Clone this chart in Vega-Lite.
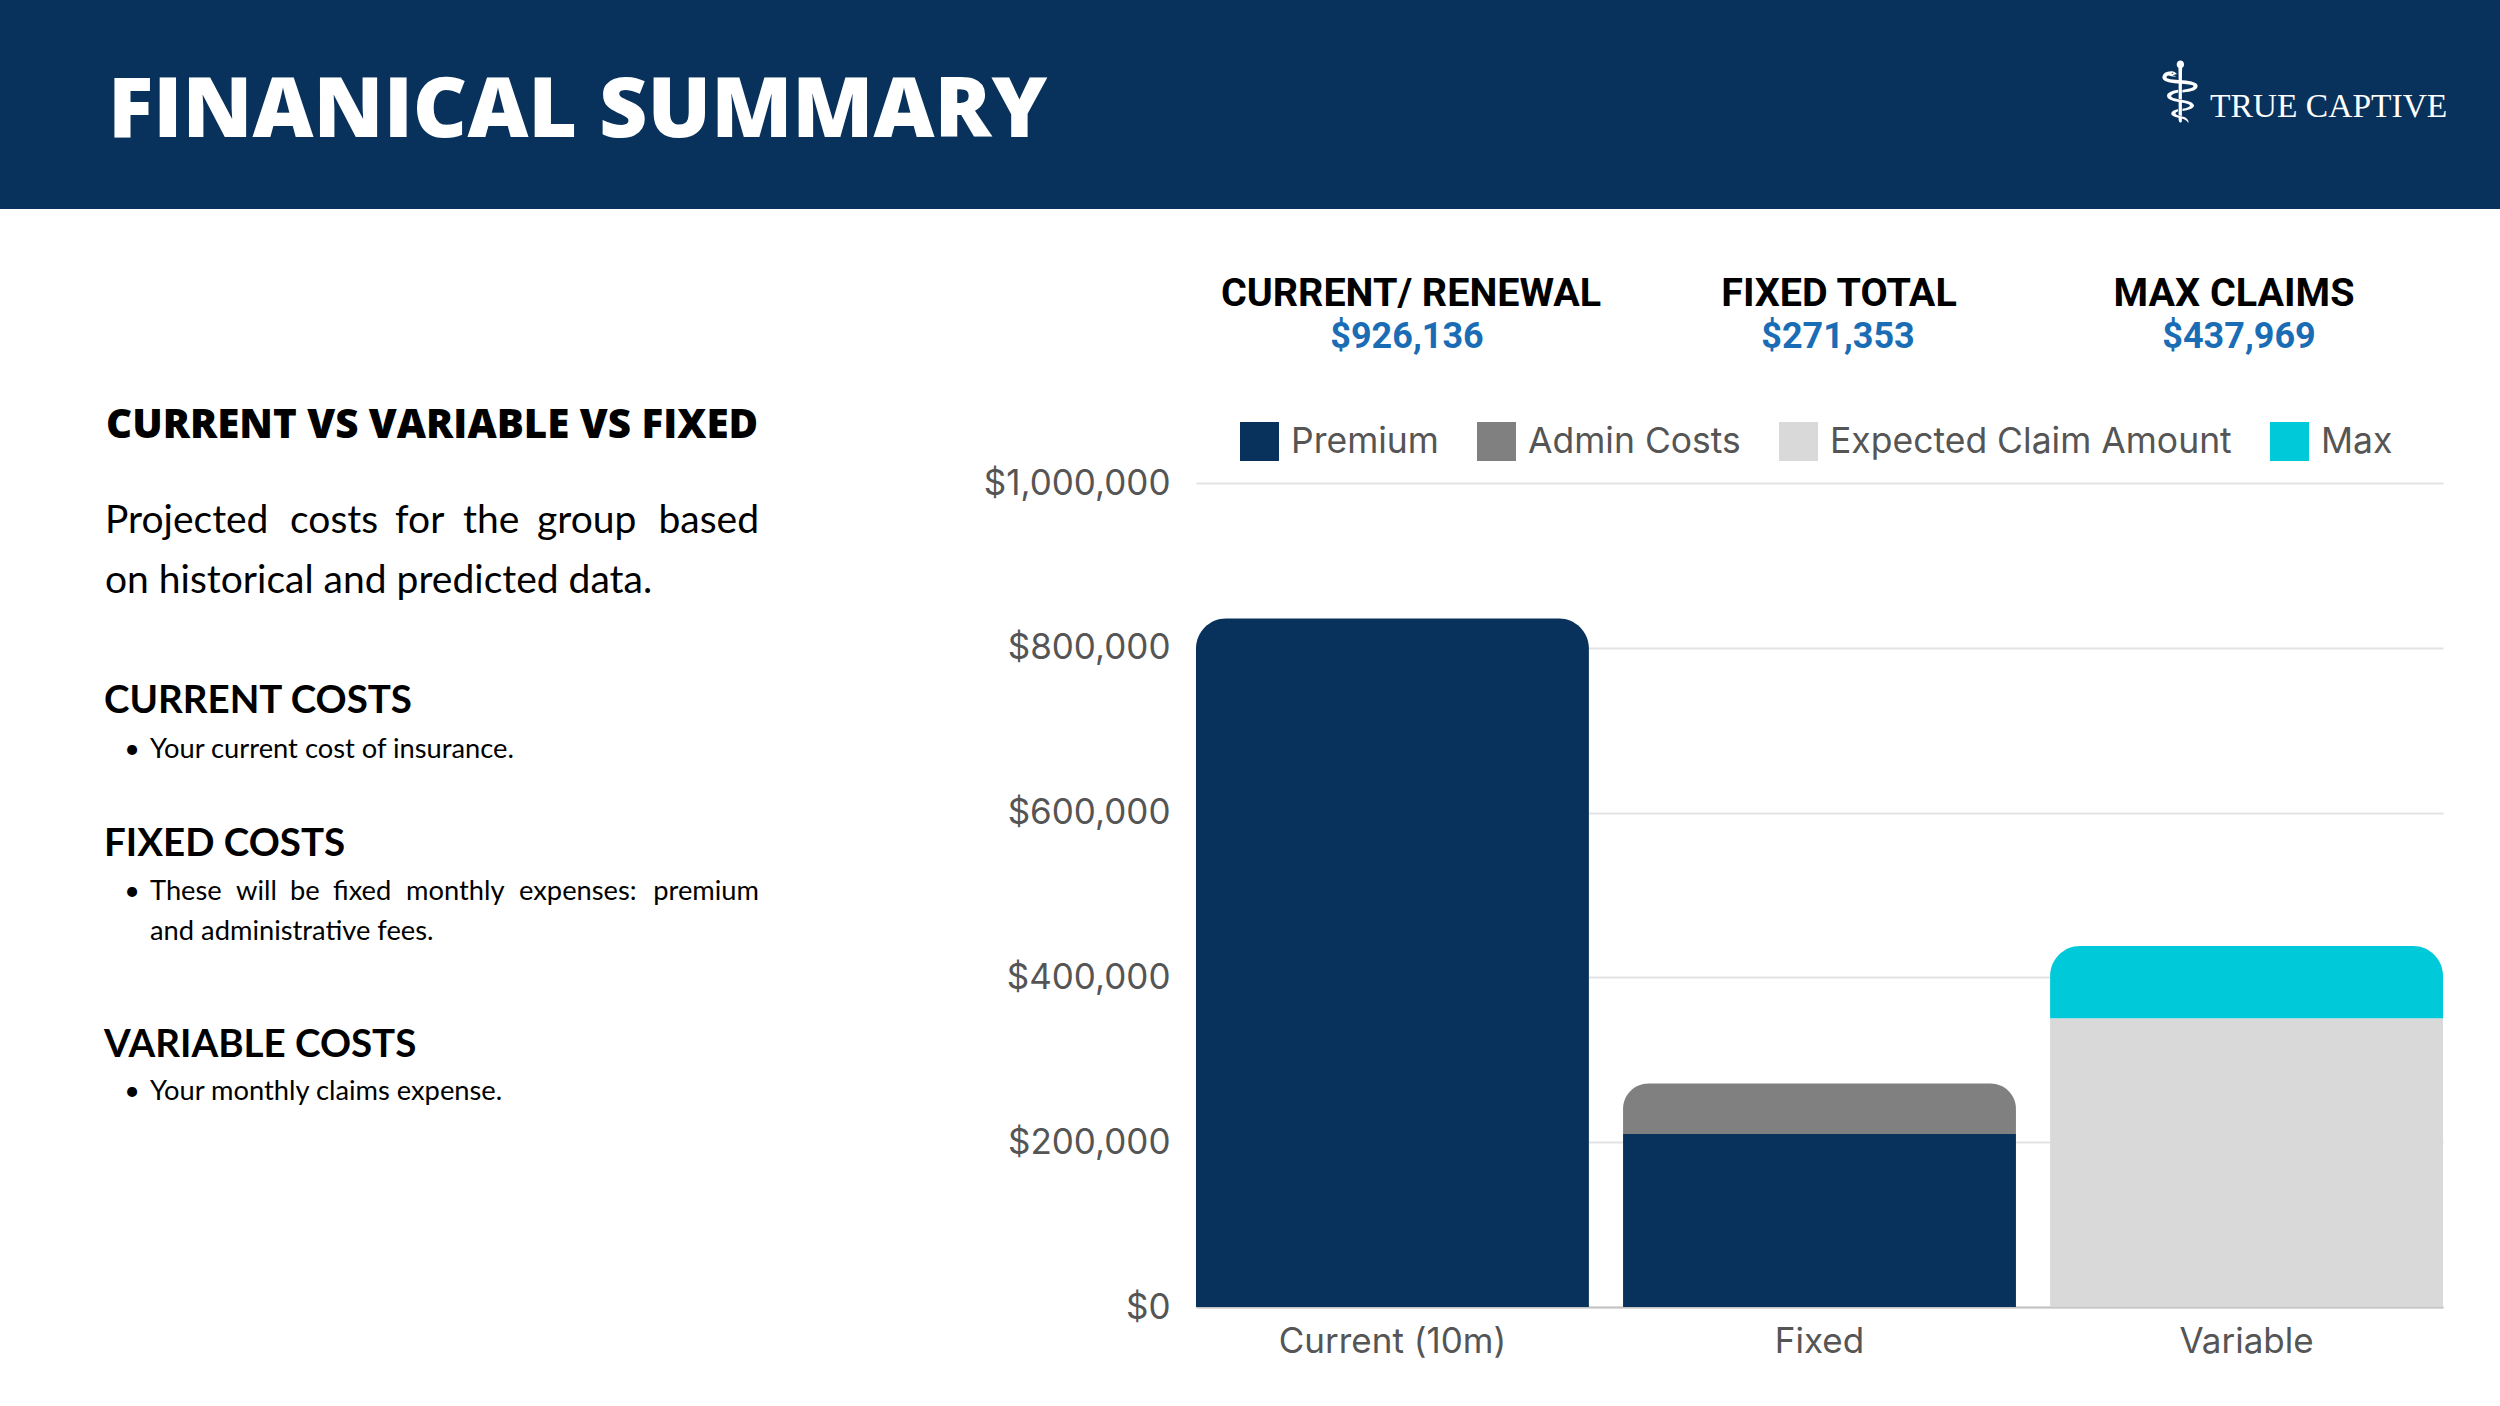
{
  "$schema": "https://vega.github.io/schema/vega-lite/v6.json",
  "width": 1247,
  "height": 824,
  "autosize": {"type": "none"},
  "padding": {"left": 1196, "top": 483, "right": 57, "bottom": 99},
  "background": "white",
  "config": {"view": {"stroke": null}, "font": "Inter"},
  "layer": [
    {
      "data": {"values": [{}]},
      "mark": {"type": "rect", "color": "#08325c"},
      "encoding": {"x": {"value": -1196}, "x2": {"value": 1304}, "y": {"value": -483}, "y2": {"value": -274}}
    },
    {
      "data": {"values": [
        {"group": "Current (10m)", "series": "Premium", "part": "top", "value": 835600},
        {"group": "Fixed", "series": "Premium", "part": "base", "value": 209800},
        {"group": "Fixed", "series": "Admin Costs", "part": "top", "value": 61553},
        {"group": "Variable", "series": "Expected Claim Amount", "part": "base", "value": 350375},
        {"group": "Variable", "series": "Max", "part": "top", "value": 87594}
      ]},
      "transform": [{"stack": "value", "groupby": ["group"], "sort": [{"field": "part", "order": "ascending"}], "as": ["v0", "v1"]}],
      "encoding": {
        "x": {"field": "group", "type": "nominal", "title": null,
          "scale": {"domain": ["Current (10m)", "Fixed", "Variable"], "paddingInner": 0.08, "paddingOuter": 0},
          "axis": {"labelAngle": 0, "labelFont": "Inter", "labelFontSize": 35, "labelColor": "#555555", "labelPadding": 17, "labelLimit": 600, "ticks": false, "domain": true, "domainColor": "#c4c4c4", "domainWidth": 2, "grid": false}},
        "y": {"field": "v0", "type": "quantitative", "title": null,
          "scale": {"domain": [0, 1000000]},
          "axis": {"values": [0, 200000, 400000, 600000, 800000, 1000000], "format": "$,.0f", "labelFont": "Inter", "labelFontSize": 35, "labelColor": "#555555", "labelPadding": 26, "labelLimit": 600, "ticks": false, "domain": false, "grid": true, "gridColor": "#e3e3e3", "gridWidth": 2}},
        "y2": {"field": "v1"},
        "color": {"field": "series", "type": "nominal",
          "scale": {"domain": ["Premium", "Admin Costs", "Expected Claim Amount", "Max"], "range": ["#08325c", "#808080", "#d9d9d9", "#00c9d9"]},
          "legend": {"title": null, "orient": "none", "legendX": 44, "legendY": -61, "direction": "horizontal", "columns": 4, "symbolType": "square", "symbolSize": 1521, "symbolStrokeWidth": 0, "symbolOpacity": 1, "labelFont": "Inter", "labelFontSize": 35.5, "labelColor": "#555555", "labelOffset": 12, "columnPadding": 38, "labelLimit": 600}}
      },
      "layer": [
        {"transform": [{"filter": "datum.part == 'base'"}], "mark": {"type": "bar", "strokeWidth": 0}},
        {"transform": [{"filter": "datum.part == 'top'"}], "mark": {"type": "bar", "strokeWidth": 0, "cornerRadiusTopLeft": 30, "cornerRadiusTopRight": 30}}
      ]
    },
    {"data": {"values": [{"t": "FINANICAL SUMMARY"}]}, "mark": {"type": "text", "align": "left", "baseline": "alphabetic", "font": "Open Sans", "fontWeight": 800, "fontSize": 84, "color": "#ffffff"}, "encoding": {"text": {"field": "t"}, "x": {"value": -1088}, "y": {"value": -346}}},
    {"data": {"values": [{"t": "⚕"}]}, "mark": {"type": "text", "align": "center", "baseline": "middle", "font": "DejaVu Sans", "fontSize": 84, "color": "#ffffff"}, "encoding": {"text": {"field": "t"}, "x": {"value": 984}, "y": {"value": -386}}},
    {"data": {"values": [{"t": "TRUE CAPTIVE"}]}, "mark": {"type": "text", "align": "left", "baseline": "alphabetic", "font": "Liberation Serif", "fontSize": 33.5, "color": "#ffffff"}, "encoding": {"text": {"field": "t"}, "x": {"value": 1014}, "y": {"value": -366}}},
    {"data": {"values": [{"t": "CURRENT/ RENEWAL"}]}, "mark": {"type": "text", "align": "center", "baseline": "alphabetic", "font": "Roboto", "fontWeight": "bold", "fontSize": 39.5, "color": "#000000"}, "encoding": {"text": {"field": "t"}, "x": {"value": 215}, "y": {"value": -177}}},
    {"data": {"values": [{"t": "FIXED TOTAL"}]}, "mark": {"type": "text", "align": "center", "baseline": "alphabetic", "font": "Roboto", "fontWeight": "bold", "fontSize": 39.5, "color": "#000000"}, "encoding": {"text": {"field": "t"}, "x": {"value": 643}, "y": {"value": -177}}},
    {"data": {"values": [{"t": "MAX CLAIMS"}]}, "mark": {"type": "text", "align": "center", "baseline": "alphabetic", "font": "Roboto", "fontWeight": "bold", "fontSize": 39.5, "color": "#000000"}, "encoding": {"text": {"field": "t"}, "x": {"value": 1038}, "y": {"value": -177}}},
    {"data": {"values": [{"t": "$926,136"}]}, "mark": {"type": "text", "align": "center", "baseline": "alphabetic", "font": "Roboto", "fontWeight": "bold", "fontSize": 36, "color": "#1a6db5"}, "encoding": {"text": {"field": "t"}, "x": {"value": 211}, "y": {"value": -135}}},
    {"data": {"values": [{"t": "$271,353"}]}, "mark": {"type": "text", "align": "center", "baseline": "alphabetic", "font": "Roboto", "fontWeight": "bold", "fontSize": 36, "color": "#1a6db5"}, "encoding": {"text": {"field": "t"}, "x": {"value": 642}, "y": {"value": -135}}},
    {"data": {"values": [{"t": "$437,969"}]}, "mark": {"type": "text", "align": "center", "baseline": "alphabetic", "font": "Roboto", "fontWeight": "bold", "fontSize": 36, "color": "#1a6db5"}, "encoding": {"text": {"field": "t"}, "x": {"value": 1043}, "y": {"value": -135}}},
    {"data": {"values": [{"t": "CURRENT VS VARIABLE VS FIXED"}]}, "mark": {"type": "text", "align": "left", "baseline": "alphabetic", "font": "Open Sans", "fontWeight": 800, "fontSize": 40.3, "color": "#000000"}, "encoding": {"text": {"field": "t"}, "x": {"value": -1090}, "y": {"value": -45}}},
    {"data": {"values": [{"t": "Projected"}]}, "mark": {"type": "text", "align": "left", "baseline": "alphabetic", "font": "Lato", "fontSize": 39, "color": "#000000"}, "encoding": {"text": {"field": "t"}, "x": {"value": -1091}, "y": {"value": 50}}},
    {"data": {"values": [{"t": "costs"}]}, "mark": {"type": "text", "align": "left", "baseline": "alphabetic", "font": "Lato", "fontSize": 39, "color": "#000000"}, "encoding": {"text": {"field": "t"}, "x": {"value": -906}, "y": {"value": 50}}},
    {"data": {"values": [{"t": "for"}]}, "mark": {"type": "text", "align": "left", "baseline": "alphabetic", "font": "Lato", "fontSize": 39, "color": "#000000"}, "encoding": {"text": {"field": "t"}, "x": {"value": -801}, "y": {"value": 50}}},
    {"data": {"values": [{"t": "the"}]}, "mark": {"type": "text", "align": "left", "baseline": "alphabetic", "font": "Lato", "fontSize": 39, "color": "#000000"}, "encoding": {"text": {"field": "t"}, "x": {"value": -733}, "y": {"value": 50}}},
    {"data": {"values": [{"t": "group"}]}, "mark": {"type": "text", "align": "left", "baseline": "alphabetic", "font": "Lato", "fontSize": 39, "color": "#000000"}, "encoding": {"text": {"field": "t"}, "x": {"value": -659}, "y": {"value": 50}}},
    {"data": {"values": [{"t": "based"}]}, "mark": {"type": "text", "align": "right", "baseline": "alphabetic", "font": "Lato", "fontSize": 39, "color": "#000000"}, "encoding": {"text": {"field": "t"}, "x": {"value": -437}, "y": {"value": 50}}},
    {"data": {"values": [{"t": "on historical and predicted data."}]}, "mark": {"type": "text", "align": "left", "baseline": "alphabetic", "font": "Lato", "fontSize": 39, "color": "#000000"}, "encoding": {"text": {"field": "t"}, "x": {"value": -1091}, "y": {"value": 110}}},
    {"data": {"values": [{"t": "CURRENT COSTS"}]}, "mark": {"type": "text", "align": "left", "baseline": "alphabetic", "font": "Lato", "fontWeight": "bold", "fontSize": 38.5, "color": "#000000"}, "encoding": {"text": {"field": "t"}, "x": {"value": -1092}, "y": {"value": 230}}},
    {"data": {"values": [{"t": "•"}]}, "mark": {"type": "text", "align": "center", "baseline": "alphabetic", "font": "Lato", "fontSize": 27, "color": "#000000"}, "encoding": {"text": {"field": "t"}, "x": {"value": -1064}, "y": {"value": 275}}},
    {"data": {"values": [{"t": "Your current cost of insurance."}]}, "mark": {"type": "text", "align": "left", "baseline": "alphabetic", "font": "Lato", "fontSize": 27.3, "color": "#000000"}, "encoding": {"text": {"field": "t"}, "x": {"value": -1046}, "y": {"value": 275}}},
    {"data": {"values": [{"t": "FIXED COSTS"}]}, "mark": {"type": "text", "align": "left", "baseline": "alphabetic", "font": "Lato", "fontWeight": "bold", "fontSize": 38.5, "color": "#000000"}, "encoding": {"text": {"field": "t"}, "x": {"value": -1092}, "y": {"value": 373}}},
    {"data": {"values": [{"t": "•"}]}, "mark": {"type": "text", "align": "center", "baseline": "alphabetic", "font": "Lato", "fontSize": 27, "color": "#000000"}, "encoding": {"text": {"field": "t"}, "x": {"value": -1064}, "y": {"value": 417}}},
    {"data": {"values": [{"t": "These"}]}, "mark": {"type": "text", "align": "left", "baseline": "alphabetic", "font": "Lato", "fontSize": 27.3, "color": "#000000"}, "encoding": {"text": {"field": "t"}, "x": {"value": -1046}, "y": {"value": 417}}},
    {"data": {"values": [{"t": "will"}]}, "mark": {"type": "text", "align": "left", "baseline": "alphabetic", "font": "Lato", "fontSize": 27.3, "color": "#000000"}, "encoding": {"text": {"field": "t"}, "x": {"value": -960}, "y": {"value": 417}}},
    {"data": {"values": [{"t": "be"}]}, "mark": {"type": "text", "align": "left", "baseline": "alphabetic", "font": "Lato", "fontSize": 27.3, "color": "#000000"}, "encoding": {"text": {"field": "t"}, "x": {"value": -906}, "y": {"value": 417}}},
    {"data": {"values": [{"t": "fixed"}]}, "mark": {"type": "text", "align": "left", "baseline": "alphabetic", "font": "Lato", "fontSize": 27.3, "color": "#000000"}, "encoding": {"text": {"field": "t"}, "x": {"value": -863}, "y": {"value": 417}}},
    {"data": {"values": [{"t": "monthly"}]}, "mark": {"type": "text", "align": "left", "baseline": "alphabetic", "font": "Lato", "fontSize": 27.3, "color": "#000000"}, "encoding": {"text": {"field": "t"}, "x": {"value": -790}, "y": {"value": 417}}},
    {"data": {"values": [{"t": "expenses:"}]}, "mark": {"type": "text", "align": "left", "baseline": "alphabetic", "font": "Lato", "fontSize": 27.3, "color": "#000000"}, "encoding": {"text": {"field": "t"}, "x": {"value": -677}, "y": {"value": 417}}},
    {"data": {"values": [{"t": "premium"}]}, "mark": {"type": "text", "align": "right", "baseline": "alphabetic", "font": "Lato", "fontSize": 27.3, "color": "#000000"}, "encoding": {"text": {"field": "t"}, "x": {"value": -437}, "y": {"value": 417}}},
    {"data": {"values": [{"t": "and administrative fees."}]}, "mark": {"type": "text", "align": "left", "baseline": "alphabetic", "font": "Lato", "fontSize": 27.3, "color": "#000000"}, "encoding": {"text": {"field": "t"}, "x": {"value": -1046}, "y": {"value": 457}}},
    {"data": {"values": [{"t": "VARIABLE COSTS"}]}, "mark": {"type": "text", "align": "left", "baseline": "alphabetic", "font": "Lato", "fontWeight": "bold", "fontSize": 38.5, "color": "#000000"}, "encoding": {"text": {"field": "t"}, "x": {"value": -1092}, "y": {"value": 574}}},
    {"data": {"values": [{"t": "•"}]}, "mark": {"type": "text", "align": "center", "baseline": "alphabetic", "font": "Lato", "fontSize": 27, "color": "#000000"}, "encoding": {"text": {"field": "t"}, "x": {"value": -1064}, "y": {"value": 617}}},
    {"data": {"values": [{"t": "Your monthly claims expense."}]}, "mark": {"type": "text", "align": "left", "baseline": "alphabetic", "font": "Lato", "fontSize": 27.3, "color": "#000000"}, "encoding": {"text": {"field": "t"}, "x": {"value": -1046}, "y": {"value": 617}}}
  ]
}
